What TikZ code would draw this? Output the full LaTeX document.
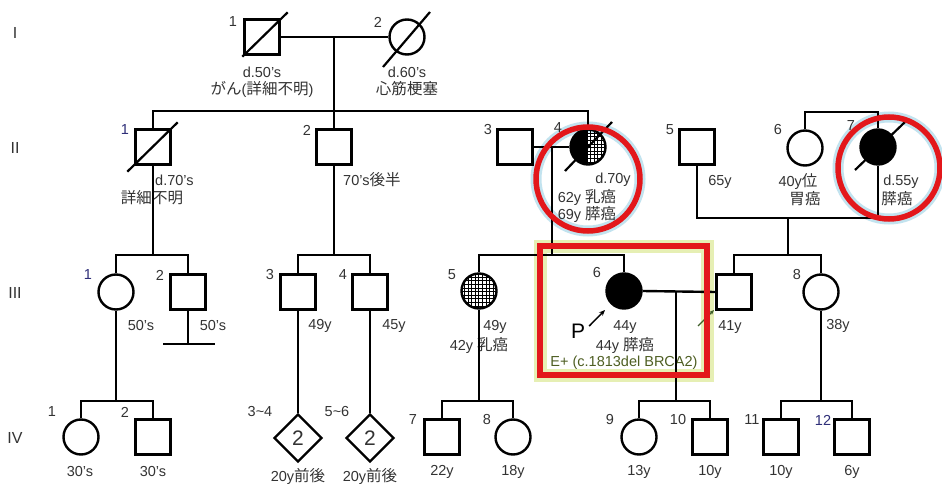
\documentclass[tikz,border=0pt]{standalone}
\usepackage{fontspec}
\setmainfont{Liberation Sans}
\newfontfamily\jpfont[Scale=1.07]{Noto Sans CJK JP}
\newcommand{\jpt}[1]{{\jpfont #1}}
\usetikzlibrary{shapes.geometric,calc,arrows.meta}
\definecolor{txt}{HTML}{333333}
\definecolor{numblue}{HTML}{2E2E78}
\definecolor{redring}{HTML}{E3171B}
\definecolor{halo}{HTML}{C2E3EF}
\definecolor{glow}{HTML}{E6EFB4}
\definecolor{gtxt}{HTML}{4E5E22}
\definecolor{garrow}{HTML}{3F5F2A}
\begin{document}
\begin{tikzpicture}[x=1pt,y=-1pt,
  pline/.style={line width=2.4pt, black},
  male/.style={draw, line width=2.4pt, rectangle, minimum size=35pt, inner sep=0pt},
  female/.style={draw, line width=2.4pt, circle, minimum size=35pt, inner sep=0pt},
  multi/.style={draw, line width=2.4pt, diamond, minimum width=48pt, minimum height=48pt, inner sep=0pt, font=\fontsize{21}{21}\selectfont, text=txt},
  lbl/.style={font=\fontsize{14.5}{16}\selectfont, text=txt, inner sep=0pt},
  bnum/.style={lbl, text=numblue},
  genlbl/.style={font=\fontsize{16}{16}\selectfont, text=txt, inner sep=0pt},
  slashline/.style={line width=2.2pt},
  redmark/.style={line width=5.5pt, redring},
  halomark/.style={line width=11pt, halo},
  glowmark/.style={line width=13pt, glow},
]
\useasboundingbox (0,0) rectangle (942,484);
\fill[white] (0,0) rectangle (942,484);

% halos and glow, beneath the pedigree
\draw[halomark] (588,179) circle[radius=52];
\draw[halomark] (889,168) circle[radius=51];
\draw[glowmark] (540,246) rectangle (707,375);

% generation labels
\node[genlbl] (gI) at (15,33) {I};
\node[genlbl] (gII) at (15,148) {II};
\node[genlbl] (gIII) at (15,293) {III};
\node[genlbl] (gIV) at (15,438) {IV};

% special fills
\begin{scope}
  \clip (588,147) circle[radius=17.6];
  \draw[line width=0.9pt] (566,125) grid[step=3.6pt] (612,170);
  \fill[black] (566,125) rectangle (588,170);
\end{scope}
\begin{scope}
  \clip (479,291) circle[radius=17.6];
  \draw[line width=0.9pt] (458,270) grid[step=3.6pt] (502,314);
\end{scope}

% ---------- Generation I
\node[male] (I1) at (262,37) {};
\node[female] (I2) at (407,37) {};
\node[lbl] (nI1) at (233,22) {1};
\node[lbl] (nI2) at (378,22) {2};
\node[lbl] (aI1) at (262,72) {d.50's};
\node[lbl] (bI1) at (262,89) {\jpt{がん}(\jpt{詳細不明})};
\node[lbl] (aI2) at (407,72) {d.60's};
\node[lbl] (bI2) at (407,89) {\jpt{心筋梗塞}};
\draw[slashline] ($(I1.south west)+(-1,1)$) -- ($(I1.north east)+(7,-6)$);
\draw[slashline] ($(I2)+(-24,30)$) -- ($(I2)+(23,-25)$);

% ---------- Generation II
\node[male] (II1) at (153,147) {};
\node[male] (II2) at (334,147) {};
\node[male] (II3) at (515,147) {};
\node[female] (II4) at (588,147) {};
\node[male] (II5) at (697,147) {};
\node[female] (II6) at (805,148) {};
\node[female, fill=black] (II7) at (878,147) {};

\node[bnum] (nII1) at (125,130) {1};
\node[lbl] (nII2) at (307,130) {2};
\node[lbl] (nII3) at (488,130) {3};
\node[lbl] (nII4) at (558,128) {4};
\node[lbl] (nII5) at (670,130) {5};
\node[lbl] (nII6) at (778,130) {6};
\node[lbl] (nII7) at (851,126) {7};

\draw[slashline] ($(II1.south west)+(-7,6)$) -- ($(II1.north east)+(6,-6)$);
\draw[slashline] ($(II4)+(-23,24)$) -- ($(II4)+(24,-25)$);
\draw[slashline] ($(II7)+(-23,23)$) -- ($(II7)+(27,-25)$);

\node[lbl, anchor=west] (aII1) at (155,180) {d.70's};
\node[lbl] (bII1) at (152,198) {\jpt{詳細不明}};
\node[lbl, anchor=west] (aII2) at (343,180) {70's\jpt{後半}};
\node[lbl] (aII4) at (613,180) {d.70y};
\node[lbl] (bII4) at (587,197) {62y \jpt{乳癌}};
\node[lbl] (cII4) at (587,214) {69y \jpt{膵癌}};
\node[lbl] (aII5) at (720,182) {65y};
\node[lbl] (aII6) at (798,182) {40y\jpt{位}};
\node[lbl] (bII6) at (805,199) {\jpt{胃癌}};
\node[lbl] (aII7) at (901,182) {d.55y};
\node[lbl] (bII7) at (897,199) {\jpt{膵癌}};

% ---------- Generation III
\node[female] (III1) at (116,292) {};
\node[male] (III2) at (188,292) {};
\node[male] (III3) at (298,292) {};
\node[male] (III4) at (370,292) {};
\node[female] (III5) at (479,291) {};
\node[female, fill=black] (III6) at (624,291) {};
\node[male] (III7) at (734,292) {};
\node[female] (III8) at (821,292) {};

\node[bnum] (nIII1) at (88,275) {1};
\node[lbl] (nIII2) at (160,275) {2};
\node[lbl] (nIII3) at (270,275) {3};
\node[lbl] (nIII4) at (343,275) {4};
\node[lbl] (nIII5) at (452,275) {5};
\node[lbl] (nIII6) at (597,273) {6};
\node[lbl] (nIII8) at (797,275) {8};

\node[lbl] (aIII1) at (141,326) {50's};
\node[lbl] (aIII2) at (213,326) {50's};
\node[lbl] (aIII3) at (320,326) {49y};
\node[lbl] (aIII4) at (394,326) {45y};
\node[lbl] (aIII5) at (495,327) {49y};
\node[lbl] (bIII5) at (479,345) {42y \jpt{乳癌}};
\node[lbl] (aIII6) at (625,327) {44y};
\node[lbl] (bIII6) at (625,345) {44y \jpt{膵癌}};
\node[lbl, text=gtxt] (cIII6) at (624,363) {E+ (c.1813del BRCA2)};
\node[lbl] (aIII7) at (730,327) {41y};
\node[lbl] (aIII8) at (838,326) {38y};

\node[font=\fontsize{21}{21}\selectfont, text=black, inner sep=1pt] (P) at (578,331) {P};
\coordinate (Ptip) at (605,310);
\draw[line width=1.5pt, -{Stealth[length=6pt,width=5pt]}] ($(P.east)+(3,-5)$) -- (Ptip);
\coordinate (gA) at (698,326);
\coordinate (gB) at (714,310);
\draw[line width=1.3pt, garrow, -{Stealth[length=5pt,width=4pt]}] (gA) -- (gB);

% ---------- Generation IV
\node[female] (IV1) at (81,437) {};
\node[male] (IV2) at (153,437) {};
\node[multi] (IV34) at (298,438) {2};
\node[multi] (IV56) at (370,438) {2};
\node[male] (IV7) at (442,437) {};
\node[female] (IV8) at (513,437) {};
\node[female] (IV9) at (639,437) {};
\node[male] (IV10) at (710,437) {};
\node[male] (IV11) at (781,437) {};
\node[male] (IV12) at (852,437) {};

\node[lbl] (nIV1) at (52,412) {1};
\node[lbl] (nIV2) at (125,412) {2};
\node[lbl] (nIV34) at (260,412) {3\char`\~4};
\node[lbl] (nIV56) at (337,412) {5\char`\~6};
\node[lbl] (nIV7) at (413,420) {7};
\node[lbl] (nIV8) at (487,420) {8};
\node[lbl] (nIV9) at (610,420) {9};
\node[lbl] (nIV10) at (678,420) {10};
\node[lbl] (nIV11) at (752,420) {11};
\node[bnum] (nIV12) at (823,420) {12};

\node[lbl] (aIV1) at (80,472) {30's};
\node[lbl] (aIV2) at (153,472) {30's};
\node[lbl] (aIV34) at (298,476) {20y\jpt{前後}};
\node[lbl] (aIV56) at (370,476) {20y\jpt{前後}};
\node[lbl] (aIV7) at (442,472) {22y};
\node[lbl] (aIV8) at (513,472) {18y};
\node[lbl] (aIV9) at (639,472) {13y};
\node[lbl] (aIV10) at (710,472) {10y};
\node[lbl] (aIV11) at (781,472) {10y};
\node[lbl] (aIV12) at (852,472) {6y};

% ---------- connectors
\coordinate (mI) at (334,37);
\coordinate (sII) at (334,111);
\draw[pline] (I1.east) -- (I2.west);
\draw[pline] (mI) -- (sII);
\draw[pline] (II1.north) |- (sII) -| (II4.north);
\draw[pline] (sII) -- (II2.north);

\coordinate (sII67) at (840,112);
\draw[pline] (II6.north) |- (sII67) -| (II7.north);

\coordinate (sIIIa) at (153,255);
\draw[pline] (II1.south) -- (sIIIa);
\draw[pline] (III1.north) |- (sIIIa) -| (III2.north);

\coordinate (sIIIc) at (334,255);
\draw[pline] (II2.south) -- (sIIIc);
\draw[pline] (III3.north) |- (sIIIc) -| (III4.north);

\coordinate (mII34) at (552,147);
\coordinate (sIIIb) at (552,255);
\draw[pline] (II3.east) -- (II4.west);
\draw[pline] (mII34) -- (sIIIb);
\draw[pline] (III5.north) |- (sIIIb) -| (III6.north);

\coordinate (mII57) at (788,218);
\coordinate (sIIId) at (788,255);
\draw[pline] (II5.south) |- (mII57) -| (II7.south);
\draw[pline] (mII57) -- (sIIId);
\draw[pline] (III7.north) |- (sIIId) -| (III8.north);

\coordinate (sIVa) at (117,401);
\draw[pline] (III1.south) -- (III1.south |- sIVa);
\draw[pline] (IV1.north) |- (sIVa) -| (IV2.north);

\coordinate (nc) at (188,344);
\coordinate (ncL) at (163,344);
\coordinate (ncR) at (215,344);
\draw[pline] (III2.south) -- (nc);
\draw[pline] (ncL) -- (ncR);

\draw[pline] (III3.south) -- (IV34.north);
\draw[pline] (III4.south) -- (IV56.north);

\coordinate (sIVc) at (479,401);
\draw[pline] (III5.south) -- (sIVc);
\draw[pline] (IV7.north) |- (sIVc) -| (IV8.north);

\coordinate (mIII67) at (676,291);
\coordinate (sIVd) at (676,401);
\draw[pline] (III6.east) -- (III7.west);
\draw[pline] (mIII67) -- (sIVd);
\draw[pline] (IV9.north) |- (sIVd) -| (IV10.north);

\coordinate (sIVe) at (821,401);
\draw[pline] (III8.south) -- (sIVe);
\draw[pline] (IV11.north) |- (sIVe) -| (IV12.north);

% ---------- highlight marks
\draw[redmark] (588,179) circle[radius=52];
\draw[redmark] (889,168) circle[radius=51];
\draw[redmark] (540,246) rectangle (707,375);
\end{tikzpicture}
\end{document}
